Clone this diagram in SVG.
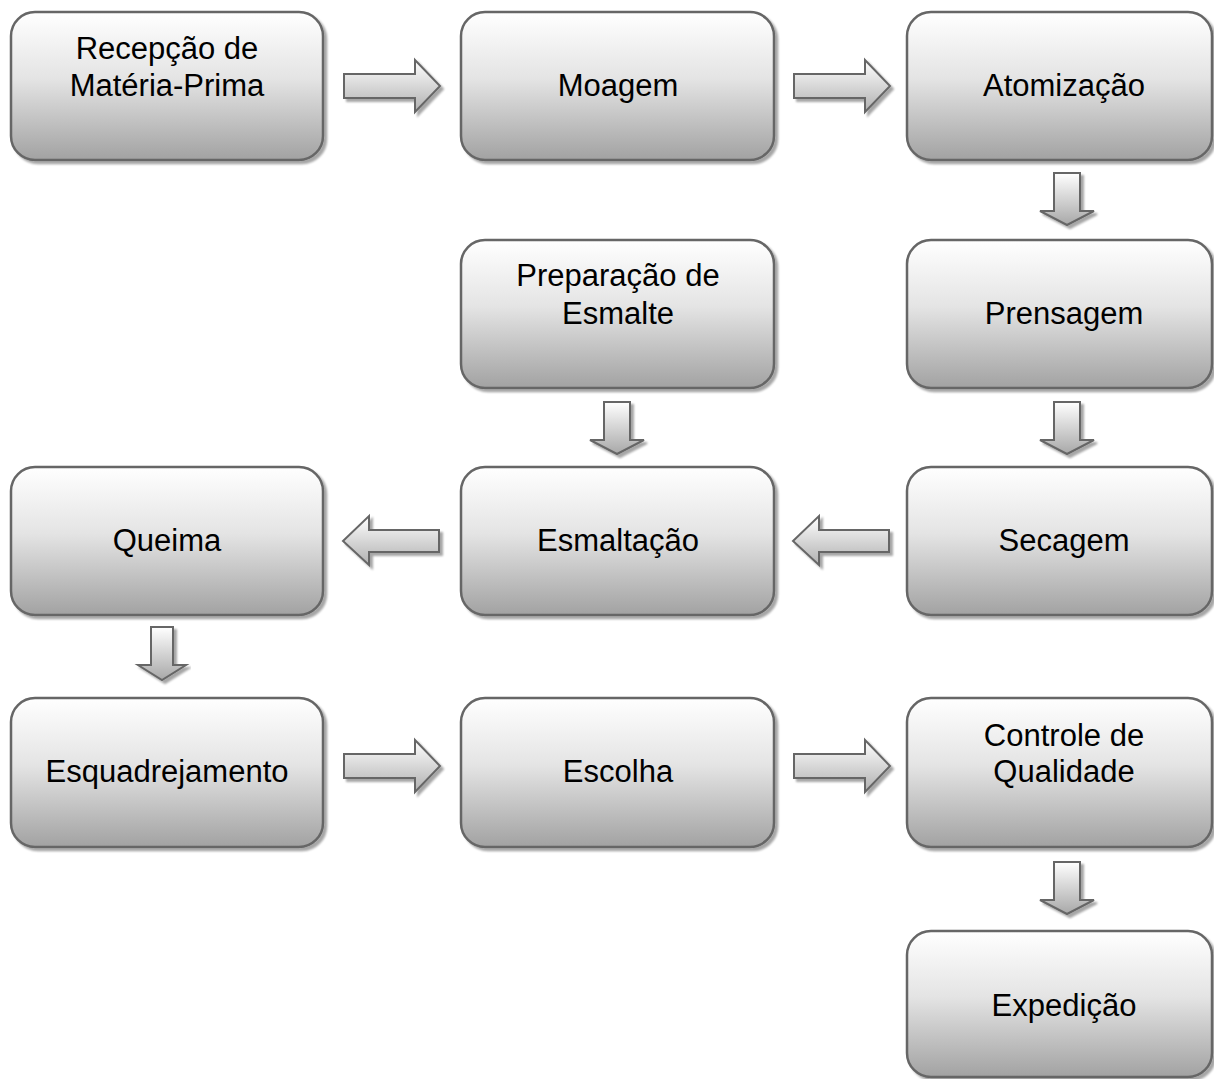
<svg xmlns="http://www.w3.org/2000/svg" width="1214" height="1079" viewBox="0 0 1214 1079">
<defs>
<linearGradient id="gBox" x1="0" y1="0" x2="0" y2="1">
<stop offset="0" stop-color="#ffffff"/>
<stop offset="0.45" stop-color="#e4e4e4"/>
<stop offset="1" stop-color="#a2a2a2"/>
</linearGradient>
<linearGradient id="gH" x1="0" y1="0" x2="0" y2="1">
<stop offset="0" stop-color="#ffffff"/>
<stop offset="1" stop-color="#b0b0b0"/>
</linearGradient>
<linearGradient id="gV" x1="0" y1="0" x2="0" y2="1">
<stop offset="0" stop-color="#ffffff"/>
<stop offset="1" stop-color="#a8a8a8"/>
</linearGradient>
<filter id="sh" x="-10%" y="-10%" width="120%" height="125%">
<feGaussianBlur in="SourceAlpha" stdDeviation="1"/>
<feOffset dx="3" dy="3" result="o"/>
<feComponentTransfer><feFuncA type="linear" slope="0.35"/></feComponentTransfer>
<feMerge><feMergeNode/><feMergeNode in="SourceGraphic"/></feMerge>
</filter>
</defs>
<style>
.box{fill:url(#gBox);stroke:#666;stroke-width:2.5;filter:url(#sh)}
.t{font-family:"Liberation Sans",Arial,sans-serif;font-size:31px;fill:#000;text-anchor:middle}
.ah{fill:url(#gH);stroke:#666;stroke-width:2;filter:url(#sh)}
.av{fill:url(#gV);stroke:#666;stroke-width:2;filter:url(#sh)}
</style>
<rect width="1214" height="1079" fill="#fff"/>
<g id="connectors">
<path class="ah" transform="translate(344,86)" d="M0,-12 H71 V-26 L96,0 L71,26 V12 H0 Z"/>
<path class="ah" transform="translate(794,86)" d="M0,-12 H71 V-26 L96,0 L71,26 V12 H0 Z"/>
<path class="av" transform="translate(1067,173)" d="M-13,0 H13 V38 H27 L0,52 L-27,38 H-13 Z"/>
<path class="av" transform="translate(1067,402)" d="M-13,0 H13 V38 H27 L0,52 L-27,38 H-13 Z"/>
<path class="av" transform="translate(617,402)" d="M-13,0 H13 V38 H27 L0,52 L-27,38 H-13 Z"/>
<path class="ah" transform="translate(439,541)" d="M0,-11 H-70 V-25 L-96,0 L-70,24 V11 H0 Z"/>
<path class="ah" transform="translate(889,541)" d="M0,-11 H-70 V-25 L-96,0 L-70,24 V11 H0 Z"/>
<path class="av" transform="translate(162,627)" d="M-11,0 H11 V38 H24 L0,53 L-24,38 H-11 Z"/>
<path class="ah" transform="translate(344,766)" d="M0,-12 H71 V-26 L96,0 L71,26 V12 H0 Z"/>
<path class="ah" transform="translate(794,766)" d="M0,-12 H71 V-26 L96,0 L71,26 V12 H0 Z"/>
<path class="av" transform="translate(1067,862)" d="M-13,0 H13 V38 H27 L0,52 L-27,38 H-13 Z"/>
</g>
<g id="n1"><rect class="box" x="11" y="12" width="312" height="148" rx="24"/><text class="t" x="167" y="59">Recepção de</text><text class="t" x="167" y="96">Matéria-Prima</text></g>
<g id="n2"><rect class="box" x="461" y="12" width="313" height="148" rx="24"/><text class="t" x="618" y="96">Moagem</text></g>
<g id="n3"><rect class="box" x="907" y="12" width="305" height="148" rx="24"/><text class="t" x="1064" y="96">Atomização</text></g>
<g id="n4"><rect class="box" x="461" y="240" width="313" height="148" rx="24"/><text class="t" x="618" y="286">Preparação de</text><text class="t" x="618" y="324">Esmalte</text></g>
<g id="n5"><rect class="box" x="907" y="240" width="305" height="148" rx="24"/><text class="t" x="1064" y="324">Prensagem</text></g>
<g id="n6"><rect class="box" x="11" y="467" width="312" height="148" rx="24"/><text class="t" x="167" y="551">Queima</text></g>
<g id="n7"><rect class="box" x="461" y="467" width="313" height="148" rx="24"/><text class="t" x="618" y="551">Esmaltação</text></g>
<g id="n8"><rect class="box" x="907" y="467" width="305" height="148" rx="24"/><text class="t" x="1064" y="551">Secagem</text></g>
<g id="n9"><rect class="box" x="11" y="698" width="312" height="149" rx="24"/><text class="t" x="167" y="782">Esquadrejamento</text></g>
<g id="n10"><rect class="box" x="461" y="698" width="313" height="149" rx="24"/><text class="t" x="618" y="782">Escolha</text></g>
<g id="n11"><rect class="box" x="907" y="698" width="305" height="149" rx="24"/><text class="t" x="1064" y="746">Controle de</text><text class="t" x="1064" y="782">Qualidade</text></g>
<g id="n12"><rect class="box" x="907" y="931" width="305" height="146" rx="24"/><text class="t" x="1064" y="1016">Expedição</text></g>
</svg>
